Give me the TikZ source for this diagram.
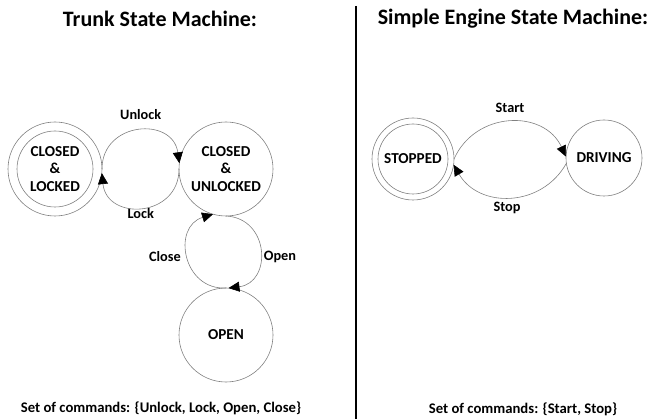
\documentclass[tikz,border=0pt]{standalone}
\usepackage{fontspec}
\setmainfont{Carlito}
\usetikzlibrary{arrows.meta}
\begin{document}
\begin{tikzpicture}[x=1pt,y=1pt,
  statenode/.style={circle, draw=black!50, line width=0.6pt, inner sep=0pt, outer sep=0pt, align=center,
    font=\fontsize{15.2}{17.5}\selectfont\bfseries},
  innerring/.style={draw=black!50, line width=0.6pt},
  arr/.style={draw=black!50, line width=0.6pt, -{Triangle[length=11pt,width=10pt,color=black]}},
  lbl/.style={font=\fontsize{14.3}{17}\selectfont\bfseries, inner sep=0pt},
  ttl/.style={font=\fontsize{22}{26}\selectfont\bfseries, inner sep=0pt},
  cmd/.style={font=\fontsize{14.7}{17}\selectfont\bfseries, inner sep=0pt}]
\useasboundingbox (0,0) rectangle (650,-419);

% titles
\node[ttl] (t1) at (160,-19) {Trunk State Machine:};
\node[ttl] (t2) at (513,-19) {Simple Engine State Machine:};

% divider
\draw[line width=2.8pt] (356,-6) -- (356,-419);

% trunk states
\node[statenode, minimum size=94pt] (CL) at (55,-169) {CLOSED\\\&\\LOCKED};
\draw[innerring] (CL) circle[radius=38];
\node[statenode, minimum size=94pt] (CU) at (226,-169) {CLOSED\\\&\\UNLOCKED};
\node[statenode, minimum size=94pt] (OP) at (226,-335) {OPEN};

% trunk transitions
\draw[arr] (CL.east) to[out=90, in=98, looseness=1.57] (CU.173);
\draw[arr] (CU.west) to[out=-90, in=-84, looseness=1.61] (CL.-5);
\draw[arr] (OP.north) to[out=183, in=197, looseness=1.48] (CU.254);
\draw[arr] (CU.south) to[out=-3, in=7, looseness=1.56] (OP.87);

\node[lbl] (lu) at (140.7,-115) {Unlock};
\node[lbl] (ll) at (140.7,-214) {Lock};
\node[lbl] (lc) at (165,-257) {Close};
\node[lbl] (lo) at (280,-257) {Open};

% engine states
\node[statenode, minimum size=82pt] (ST) at (413,-159) {STOPPED};
\draw[innerring] (ST) circle[radius=35];
\node[statenode, minimum size=76pt] (DR) at (604,-158) {DRIVING};

\draw[arr] (ST.east) to[out=66, in=115, looseness=1.2] (DR.178);
\draw[arr] (DR.188) to[out=241, in=-60, looseness=1.15] (ST.-8);

\node[lbl] (ls) at (510,-108) {Start};
\node[lbl] (lp) at (507,-208) {Stop};

% command sets
\node[cmd] (c1) at (161,-408) {Set of commands: \{Unlock, Lock, Open, Close\}};
\node[cmd] (c2) at (523,-409) {Set of commands: \{Start, Stop\}};
\end{tikzpicture}
\end{document}
